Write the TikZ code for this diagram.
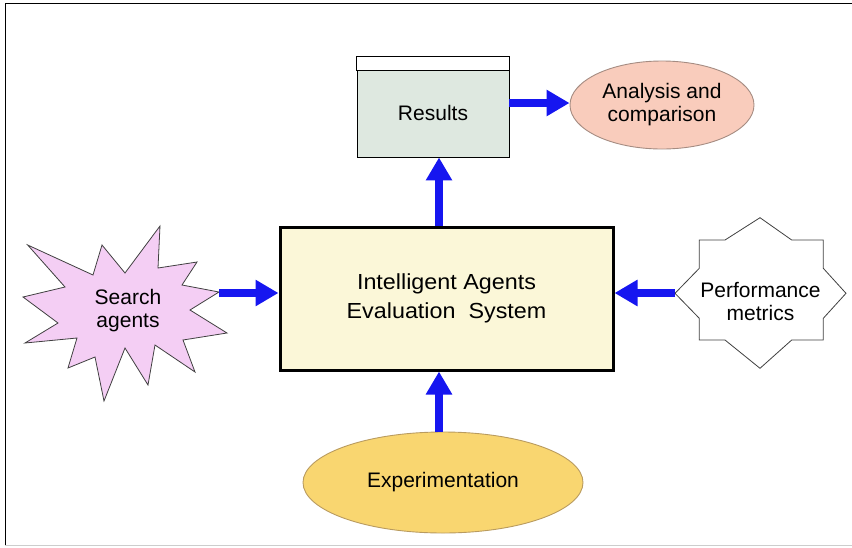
\documentclass[tikz,border=0pt]{standalone}
\usepackage{fontspec}
\setmainfont{Liberation Sans}
\newfontfamily\widefont{Liberation Sans}[FakeStretch=1.07]
\usetikzlibrary{arrows.meta,shapes.geometric,calc}
\definecolor{mainfill}{RGB}{251,247,216}
\definecolor{resfill}{RGB}{222,232,224}
\definecolor{anafill}{RGB}{249,204,188}
\definecolor{anadraw}{RGB}{165,140,130}
\definecolor{expfill}{RGB}{249,214,112}
\definecolor{expdraw}{RGB}{185,155,95}
\definecolor{srchfill}{RGB}{244,206,244}
\definecolor{arrowblue}{RGB}{22,22,240}
\definecolor{framegray}{RGB}{205,205,205}
\tikzset{
  lbl/.style={align=center, inner sep=0pt, text=black, font=\fontsize{21}{23}\selectfont},
  bluearr/.style={draw=arrowblue, line width=8pt, -{Triangle[length=23pt,width=25pt]}},
  shapeline/.style={draw=black!75, line width=0.8pt},
}
\begin{document}
\begin{tikzpicture}[x=1pt,y=-1pt]
\useasboundingbox (0,0) rectangle (852,547);
% frame
\draw[black, line width=1pt] (852,3) -- (5,3) -- (5,546);
\draw[framegray, line width=1pt] (5,545.5) -- (852,545.5);

% main box
\node[draw=black, line width=3pt, fill=mainfill, minimum width=333pt, minimum height=143pt,
      align=center, inner sep=0pt, font=\widefont\fontsize{21.8}{29}\selectfont] (main) at (446.5,298.5)
      {Intelligent Agents\\Evaluation\ \ System};

% results box
\node[draw=black, line width=0.9pt, fill=resfill, minimum width=152pt, minimum height=100pt, inner sep=0pt] (results) at (433,107) {};
\draw[black, line width=0.9pt, fill=white] (results.north west) rectangle ($(results.north east)+(0,14)$);
\node[lbl] (restext) at (433,113) {Results};

% analysis ellipse
\node[ellipse, draw=anadraw, line width=0.9pt, fill=anafill, minimum width=184pt, minimum height=88pt, lbl] (analysis) at (662,105) {Analysis and\\comparison};

% experimentation ellipse
\node[ellipse, draw=expdraw, line width=0.9pt, fill=expfill, minimum width=280pt, minimum height=101pt, lbl] (exper) at (443,482.5) {Experimentation};

% search agents starburst
\draw[shapeline, fill=srchfill] (27.7,245) -- (93,275) -- (102,245) -- (125,273) -- (160,226) -- (158,268)
  -- (197,262) -- (182,285) -- (219,292) -- (190,310) -- (227,333) -- (183,340) -- (195,372)
  -- (155,345) -- (148,385) -- (125,348) -- (104,401) -- (95,357) -- (68,368) -- (77,338)
  -- (25,343) -- (58,323) -- (23,297) -- (65,287) -- cycle;
\node[lbl] (search) at (128,311) {Search\\agents};
\coordinate (stip) at (219,293);

% performance metrics 8-point star
\draw[shapeline, fill=white] (699.3,240) -- (725,240) -- (760,217.7) -- (791.7,240) -- (823.3,240)
  -- (823.3,268.3) -- (846,293.3) -- (823.3,318.3) -- (823.3,340) -- (791.7,340) -- (760,368.3)
  -- (725,340) -- (699.3,340) -- (699.3,318.3) -- (675,293.3) -- (699.3,268.3) -- cycle;
\node[lbl] (perf) at (760.5,301) {Performance\\metrics};
\coordinate (ptip) at (675,293);

% connectors
\coordinate (vx) at (439,0);
\coordinate (hy) at (0,103);
\draw[bluearr] (stip) -- (stip -| main.west);
\draw[bluearr] (ptip) -- (ptip -| main.east);
\draw[bluearr] (vx |- main.north) -- (vx |- results.south);
\draw[bluearr] (vx |- exper.north) -- (vx |- main.south);
\draw[bluearr] (hy -| results.east) -- (hy -| analysis.west);
\end{tikzpicture}
\end{document}
